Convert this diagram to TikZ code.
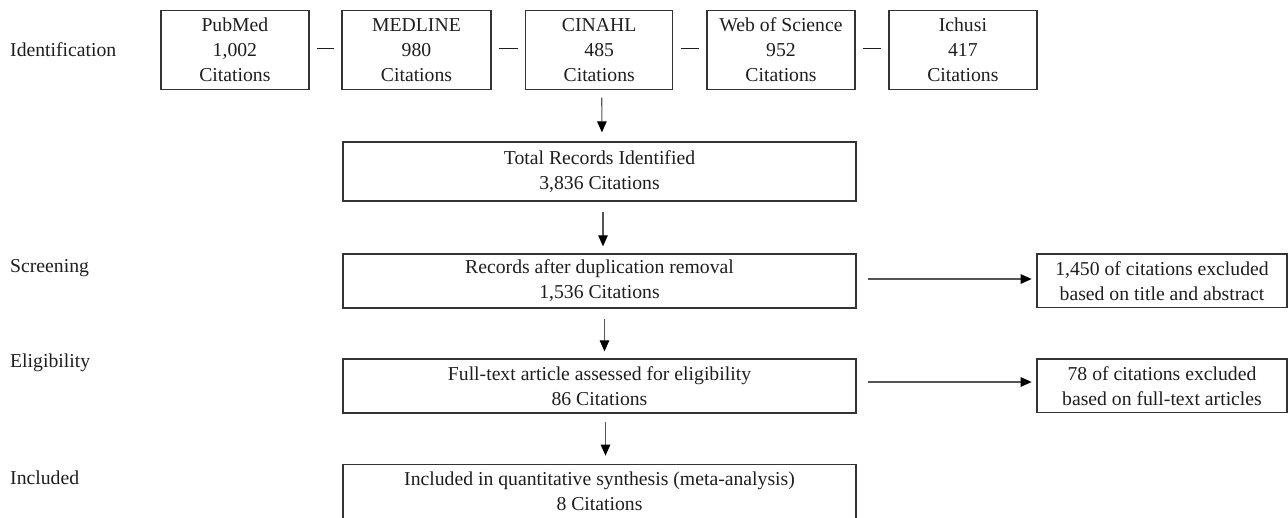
\documentclass[tikz,border=0pt]{standalone}
\usepackage{fontspec}
\setmainfont{Liberation Serif}
\usetikzlibrary{arrows.meta}
\definecolor{ink}{HTML}{1E1E1E}
\definecolor{edge}{HTML}{333333}
\definecolor{arr}{HTML}{555555}
\begin{document}
\begin{tikzpicture}[x=1pt,y=-1pt,
  every node/.style={text=ink,font=\fontsize{19.7}{25}\selectfont},
  srcbox/.style={draw=edge,line width=1.3pt,rectangle,minimum width=148pt,minimum height=78.6pt,align=center,inner sep=0pt},
  midbox/.style={draw=edge,line width=1.3pt,rectangle,minimum width=513pt,minimum height=54pt,align=center,inner sep=0pt},
  exbox/.style={draw=edge,line width=1.3pt,rectangle,minimum width=250pt,minimum height=53.5pt,align=center,inner sep=0pt},
  stage/.style={anchor=west,inner sep=0pt},
  flow/.style={draw=arr,line width=1.1pt,-{Triangle[length=11pt,width=9.5pt,color=black]}},
  joiner/.style={draw=ink,line width=0.8pt,shorten <=7.5pt,shorten >=7.5pt}]
\useasboundingbox (0,0) rectangle (1288,517);
% stage labels
\node[stage] (sid) at (10,50) {Identification};
\node[stage] (ssc) at (10,268) {Screening};
\node[stage] (sel) at (10,363) {Eligibility};
\node[stage] (sin) at (10,478) {Included};
% sources
\node[srcbox] (pub) at (234.9,50) {PubMed\\1,002\\Citations};
\node[srcbox,minimum width=149pt] (med) at (416.5,50) {MEDLINE\\980\\Citations};
\node[srcbox,minimum width=147pt] (cin) at (599.2,50) {CINAHL\\485\\Citations};
\node[srcbox] (wos) at (781,50) {Web of Science\\952\\Citations};
\node[srcbox] (ich) at (962.9,50) {Ichusi\\417\\Citations};
\draw[joiner] ([yshift=2pt]pub.east) -- ([yshift=2pt]med.west);
\draw[joiner] ([yshift=2pt]med.east) -- ([yshift=2pt]cin.west);
\draw[joiner] ([yshift=2pt]cin.east) -- ([yshift=2pt]wos.west);
\draw[joiner] ([yshift=2pt]wos.east) -- ([yshift=2pt]ich.west);
% main flow
\node[midbox,minimum height=59pt] (tot) at (599.5,171.5) {Total Records Identified\\3,836 Citations};
\node[midbox] (rec) at (599.5,281) {Records after duplication removal\\1,536 Citations};
\node[midbox] (ful) at (599.5,386) {Full-text article assessed for eligibility\\86 Citations};
\node[midbox] (inc) at (599.5,491.3) {Included in quantitative synthesis (meta-analysis)\\8 Citations};
% exclusions
\node[exbox] (ex1) at (1162,280.7) {1,450 of citations excluded\\based on title and abstract};
\node[exbox] (ex2) at (1162,385.8) {78 of citations excluded\\based on full-text articles};
% arrows
\draw[flow,shorten <=7.7pt,shorten >=9pt] ([xshift=2.5pt]cin.south) -- ([xshift=2.5pt]tot.north);
\draw[flow,shorten <=10pt,shorten >=7pt] ([xshift=3.5pt]tot.south) -- ([xshift=3.5pt]rec.north);
\draw[flow,shorten <=10pt,shorten >=7pt] ([xshift=5pt]rec.south) -- ([xshift=5pt]ful.north);
\draw[flow,shorten <=8pt,shorten >=8pt] ([xshift=6pt]ful.south) -- ([xshift=6pt]inc.north);
\draw[flow,shorten <=11pt,shorten >=4.7pt] ([yshift=2pt]rec.east) -- ([yshift=2pt]rec.east -| ex1.west);
\draw[flow,shorten <=11pt,shorten >=4.7pt] ([yshift=4pt]ful.east) -- ([yshift=4pt]ful.east -| ex2.west);
\end{tikzpicture}
\end{document}
